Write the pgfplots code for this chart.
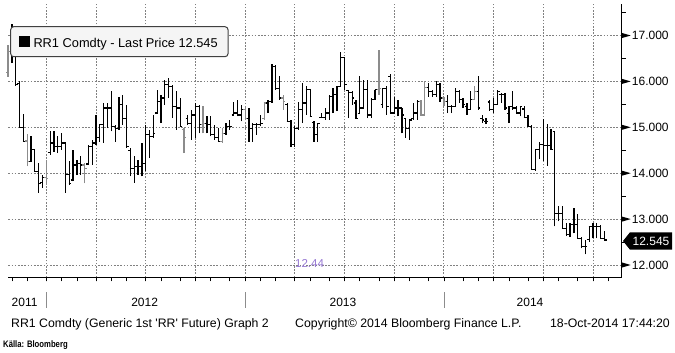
\documentclass[border=0pt]{standalone}
\usepackage{fontspec}
\setmainfont{Liberation Sans}
\usepackage{graphicx}
\usepackage{pgfplots}
\usepackage{pgfplotstable}
\pgfplotsset{compat=1.18}

\definecolor{gridc}{RGB}{128,128,128}
\definecolor{barg}{RGB}{140,140,140}
\definecolor{lowc}{RGB}{150,120,210}

\pgfdeclareplotmark{ohlcopen}{\pgfpathmoveto{\pgfqpoint{-2.1pt}{0pt}}\pgfpathlineto{\pgfqpoint{0.6pt}{0pt}}\pgfusepathqstroke}
\pgfdeclareplotmark{ohlcclose}{\pgfpathmoveto{\pgfqpoint{-0.6pt}{0pt}}\pgfpathlineto{\pgfqpoint{2.1pt}{0pt}}\pgfusepathqstroke}

\pgfplotstableread{
w o h l c
-9 16.60 17.25 16.40 16.55
-8 16.55 16.69 15.90 15.93
-7 15.95 16.00 14.99 14.99
-6 15.00 15.29 14.69 14.69
-4 14.26 14.80 14.26 14.51
-3 14.51 14.51 14.04 14.04
-2 14.04 14.22 13.57 13.78
-1 13.80 13.97 13.68 13.91
1 14.45 14.91 14.40 14.66
2 14.66 14.91 14.47 14.58
3 14.58 14.80 14.44 14.58
4 14.58 14.87 14.51 14.66
5 14.66 14.69 13.57 13.97
6 13.97 14.26 13.75 13.78
7 13.85 14.51 13.82 14.18
8 14.18 14.29 13.97 14.22
9 14.22 14.37 13.97 14.18
11 14.20 14.62 14.18 14.58
12 14.58 14.73 14.18 14.66
13 14.66 15.27 14.62 14.77
14 14.77 15.06 14.69 15.06
15 15.06 15.53 14.66 15.42
16 15.42 15.53 14.98 15.42
17 15.42 15.78 14.91 15.02
18 15.02 15.06 14.69 14.98
19 14.98 15.67 14.95 15.49
20 15.49 15.71 15.06 15.20
21 15.20 15.49 14.55 14.58
22 14.50 14.55 13.93 14.11
23 14.11 14.37 13.79 14.15
24 14.15 14.29 13.97 14.15
25 14.15 14.66 13.93 14.22
26 14.22 15.06 14.04 14.84
27 14.84 14.95 14.33 14.80
28 14.80 15.27 14.77 14.87
29 15.31 15.82 15.31 15.56
30 15.56 15.71 15.09 15.64
31 15.64 16.04 15.49 15.93
32 15.93 16.07 15.64 15.89
33 15.89 15.93 15.20 15.46
34 15.46 15.78 14.95 15.42
35 15.42 15.64 15.02 15.02
37 15.20 15.27 15.06 15.09
38 15.09 15.38 14.73 15.27
39 15.27 15.53 14.77 15.46
40 15.46 15.49 14.87 15.06
42 15.09 15.24 14.87 15.06
43 15.06 15.24 14.80 14.84
44 14.84 15.06 14.73 14.77
45 14.77 14.98 14.69 14.69
47 14.87 15.09 14.84 15.02
48 15.02 15.16 14.95 15.02
49 15.27 15.56 15.27 15.31
50 15.31 15.60 15.24 15.27
51 15.27 15.49 15.13 15.38
53 15.20 15.42 14.69 14.98
54 14.98 15.09 14.69 15.06
55 15.06 15.09 14.84 15.06
56 15.06 15.27 15.02 15.09
58 15.53 15.60 15.31 15.56
59 15.56 16.38 15.53 16.33
60 16.33 16.36 15.82 15.85
61 15.85 16.11 15.60 15.64
63 15.50 15.53 15.13 15.13
64 15.13 15.16 14.58 14.62
65 14.62 15.02 14.58 14.98
66 14.98 15.56 14.95 15.38
67 15.38 15.96 15.09 15.53
68 15.53 15.89 15.27 15.82
69 15.82 15.82 15.24 15.24
70 15.10 15.13 14.69 14.84
71 14.84 15.09 14.69 15.09
72 15.22 15.31 15.20 15.22
73 15.22 15.42 15.16 15.31
74 15.31 15.71 15.16 15.67
75 15.67 15.85 15.31 15.71
76 15.71 15.89 15.35 15.89
77 15.89 16.64 15.89 16.52
78 16.52 16.54 15.82 15.93
79 15.80 15.82 15.20 15.75
80 15.75 15.78 15.49 15.64
81 15.53 15.60 15.20 15.20
82 15.30 16.11 15.30 15.42
83 15.42 16.04 15.40 15.82
84 15.82 16.04 15.20 15.27
85 15.27 15.64 15.20 15.60
86 15.60 15.82 15.60 15.82
88 15.50 15.85 15.42 15.85
89 15.85 15.89 15.27 15.46
90 16.10 16.16 15.31 15.31
91 15.31 15.67 15.30 15.42
92 15.42 15.60 15.24 15.42
93 15.42 15.42 14.87 15.27
94 15.20 15.20 14.77 14.98
95 14.98 15.16 14.73 15.16
96 15.20 15.53 15.16 15.31
97 15.31 15.60 15.16 15.56
100 15.87 15.96 15.67 15.78
101 15.78 15.82 15.67 15.71
102 15.71 16.00 15.67 15.93
103 15.93 15.96 15.56 15.64
105 15.56 15.71 15.31 15.46
106 15.46 15.49 15.31 15.46
107 15.46 15.85 15.46 15.78
108 15.78 15.82 15.53 15.60
109 15.60 15.64 15.42 15.49
110 15.46 15.53 15.27 15.38
111 15.38 15.78 15.38 15.60
113 15.78 16.11 15.38 15.42
114 15.20 15.27 15.09 15.16
115 15.13 15.20 15.07 15.13
116 15.55 15.60 15.36 15.38
117 15.38 15.64 15.31 15.49
118 15.49 15.82 15.49 15.78
119 15.72 15.75 15.53 15.71
120 15.71 15.75 15.38 15.42
121 15.30 15.46 15.09 15.46
122 15.46 15.78 15.38 15.42
123 15.42 15.46 15.31 15.31
124 15.31 15.46 15.24 15.46
125 15.40 15.46 15.22 15.22
126 15.22 15.26 15.00 15.02
127 15.02 15.04 14.08 14.08
128 14.08 14.52 14.05 14.52
129 14.52 14.67 14.30 14.63
130 14.63 15.18 14.27 14.60
131 14.60 15.07 14.16 14.60
132 14.60 14.96 14.52 14.52
133 14.90 14.93 12.84 13.13
134 13.13 13.28 12.95 13.13
135 13.13 13.28 12.80 12.80
136 12.80 12.91 12.63 12.66
137 12.66 12.91 12.62 12.88
138 12.88 13.24 12.69 12.88
139 12.88 13.12 12.58 12.58
140 12.58 12.62 12.36 12.40
141 12.40 12.55 12.23 12.40
142 12.55 12.84 12.51 12.84
143 12.84 12.91 12.58 12.84
144 12.84 12.91 12.58 12.84
145 12.84 12.88 12.58 12.58
146 12.58 12.75 12.53 12.545
}\blackbars

\pgfplotstableread{
w o h l c
-10 16.20 16.80 16.10 16.65
-5 14.70 14.85 14.15 14.26
0 13.91 14.29 13.75 13.89
10 14.18 14.22 13.78 14.11
36 14.95 14.98 14.44 14.77
41 15.06 15.46 14.87 15.09
46 14.69 14.98 14.66 14.87
52 15.38 15.46 15.16 15.20
57 15.20 15.53 15.16 15.53
62 15.64 15.71 15.38 15.56
87 15.82 16.69 15.71 15.85
98 15.56 15.60 15.27 15.27
99 15.27 16.00 15.27 15.87
104 15.64 15.64 15.46 15.56
112 15.60 15.89 15.60 15.78
}\greybars

\begin{document}
\begin{tikzpicture}[x=1pt,y=1pt]
\path[use as bounding box] (0,0) rectangle (675,353);
\begin{axis}[
  at={(8.3pt,75.7pt)}, anchor=south west, scale only axis,
  width=613.4pt, height=273pt,
  xmin=-9.95, xmax=150.5, ymin=11.732, ymax=17.68,
  axis x line*=bottom, axis y line*=right,
  axis line style={-, black, line width=1.1pt},
  clip=false,
  tick align=outside, major tick length=4pt,
  xtick={-9,-5,0,4,8,13,17,21,26,30,35,39,43,48,52,56,60,65,69,74,78,82,87,91,95,100,104,109,113,117,121,126,130,134,139,143,147},
  xticklabel=\empty,
  xtick style={black, line width=0.8pt},
  extra x ticks={0,13,26,39,52,65,78,91,104,117,130,143},
  extra x tick label=\empty,
  extra x tick style={grid=major},
  ytick={12,13,14,15,16,17},
  ymajorgrids=true,
  major grid style={gridc, line width=0.9pt, dash pattern=on 1.6pt off 1.6pt},
  ytick style={draw=none},
  yticklabel style={anchor=west, inner sep=0pt, xshift=6pt, font=\fontsize{12}{14}\selectfont},
  yticklabel={\pgfmathprintnumber[fixed,fixed zerofill,precision=3,assume math mode=true]{\tick}},
]
% black bars
\addplot[draw=none, mark=none,
  error bars/.cd, y dir=plus, y explicit, error mark=none,
  error bar style={draw=black, line width=1.25pt}]
  table[x=w, y=l, y error expr=\thisrow{h}-\thisrow{l}] {\blackbars};
\addplot[black, only marks, mark=ohlcopen, mark options={line width=1.2pt}] table[x=w, y=o] {\blackbars};
\addplot[black, only marks, mark=ohlcclose, mark options={line width=1.2pt}] table[x=w, y=c] {\blackbars};
% grey bars
\addplot[draw=none, mark=none,
  error bars/.cd, y dir=plus, y explicit, error mark=none,
  error bar style={draw=barg, line width=1.25pt}]
  table[x=w, y=l, y error expr=\thisrow{h}-\thisrow{l}] {\greybars};
\addplot[barg, only marks, mark=ohlcopen, mark options={line width=1.2pt}] table[x=w, y=o] {\greybars};
\addplot[barg, only marks, mark=ohlcclose, mark options={line width=1.2pt}] table[x=w, y=c] {\greybars};
% right-axis tick arrows and half ticks
\pgfplotsinvokeforeach{12,13,14,15,16,17}{\fill[black] (axis cs:150.5,#1) ++(0pt,2.6pt) -- ++(9pt,-2.6pt) -- ++(-9pt,-2.6pt) -- cycle;}
\pgfplotsinvokeforeach{12.5,13.5,14.5,15.5,16.5,17.5}{\draw[black, line width=0.8pt] (axis cs:150.5,#1) -- ++(4pt,0pt);}
\end{axis}

% legend box
\draw[black!75, line width=1pt, fill=black!4, rounded corners=3pt] (10.7,296.3) rectangle (228,326.3);
\fill[black] (19,306) rectangle (30,316.5);
\node[anchor=base west, inner sep=0pt, font=\fontsize{12.8}{14}\selectfont] at (33.3,305.3) {RR1 Comdty - Last Price 12.545};

% last price tag
\fill[black] (623,112) -- (630,120.7) -- (672,120.7) -- (672,103.3) -- (630,103.3) -- cycle;
\node[anchor=base, inner sep=0pt, text=white, font=\fontsize{12}{14}\selectfont] at (651,107.5) {12.545};

% low annotation
\node[anchor=base west, inner sep=0pt, text=lowc, font=\fontsize{11.5}{14}\selectfont] at (295,85) {12.44};

% year separators and labels
\foreach \xx in {46.3,245,444} {\draw[black!45, line width=0.9pt] (\xx,45) -- (\xx,61);}
\foreach \xx/\yy in {24.6/2011,144.6/2012,343/2013,530/2014} {
  \node[anchor=base, inner sep=0pt, font=\fontsize{12}{14}\selectfont] at (\xx,46.5) {\yy};}

% footer
\node[anchor=base west, inner sep=0pt, font=\fontsize{12.3}{14}\selectfont] at (11,25) {RR1 Comdty (Generic 1st \textquotesingle RR\textquotesingle{} Future) Graph 2};
\node[anchor=base west, inner sep=0pt, font=\fontsize{12.3}{14}\selectfont] at (295,25) {Copyright\textcopyright{} 2014 Bloomberg Finance L.P.};
\node[anchor=base east, inner sep=0pt, font=\fontsize{12.3}{14}\selectfont] at (670,25) {18-Oct-2014 17:44:20};
\node[anchor=base west, inner sep=0pt] at (3,5) {\scalebox{0.82}[1]{\bfseries\fontsize{9.4}{11}\selectfont Källa: Bloomberg}};
\end{tikzpicture}
\end{document}
